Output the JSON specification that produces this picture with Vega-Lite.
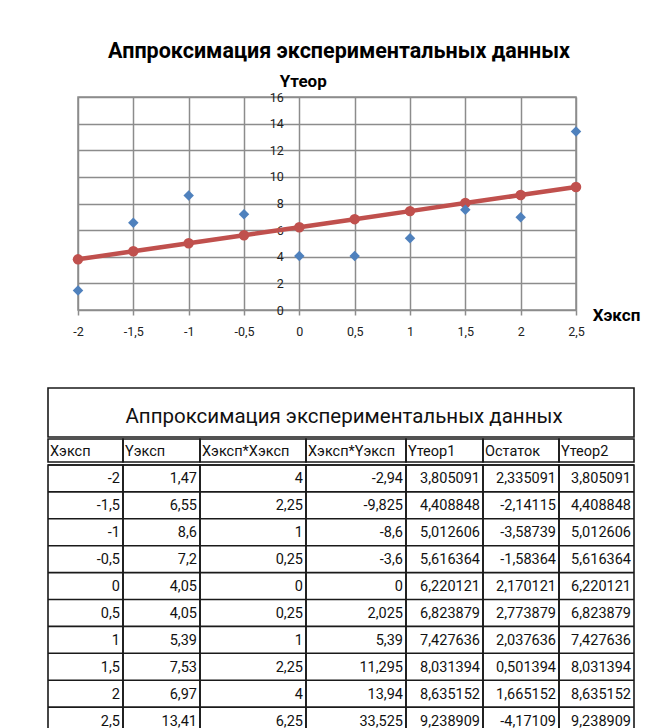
{
  "$schema": "https://vega.github.io/schema/vega-lite/v6.json",
  "padding": {"left": 46, "top": 39, "right": 5, "bottom": 0},
  "background": "white",
  "config": {
    "font": "Roboto",
    "locale": {"number": {"decimal": ",", "thousands": "\u00a0", "grouping": [3], "currency": ["", ""], "minus": "-"}},
    "view": {"stroke": null},
    "axis": {"labelOverlap": false, "labelFlush": false},
    "text": {"font": "Roboto", "fontSize": 14.5, "color": "#111"}
  },
  "datasets": {
    "d": [
      {"x": -2, "y": 1.47, "xx": 4, "xy": -2.94, "t1": 3.805091, "o": 2.335091, "t2": 3.805091},
      {"x": -1.5, "y": 6.55, "xx": 2.25, "xy": -9.825, "t1": 4.408848, "o": -2.14115, "t2": 4.408848},
      {"x": -1, "y": 8.6, "xx": 1, "xy": -8.6, "t1": 5.012606, "o": -3.58739, "t2": 5.012606},
      {"x": -0.5, "y": 7.2, "xx": 0.25, "xy": -3.6, "t1": 5.616364, "o": -1.58364, "t2": 5.616364},
      {"x": 0, "y": 4.05, "xx": 0, "xy": 0, "t1": 6.220121, "o": 2.170121, "t2": 6.220121},
      {"x": 0.5, "y": 4.05, "xx": 0.25, "xy": 2.025, "t1": 6.823879, "o": 2.773879, "t2": 6.823879},
      {"x": 1, "y": 5.39, "xx": 1, "xy": 5.39, "t1": 7.427636, "o": 2.037636, "t2": 7.427636},
      {"x": 1.5, "y": 7.53, "xx": 2.25, "xy": 11.295, "t1": 8.031394, "o": 0.501394, "t2": 8.031394},
      {"x": 2, "y": 6.97, "xx": 4, "xy": 13.94, "t1": 8.635152, "o": 1.665152, "t2": 8.635152},
      {"x": 2.5, "y": 13.41, "xx": 6.25, "xy": 33.525, "t1": 9.238909, "o": -4.17109, "t2": 9.238909}
    ],
    "one": [{}]
  },
  "spacing": 48,
  "vconcat": [
    {
      "spacing": 0,
      "hconcat": [
        {
          "width": 20, "height": 10,
          "data": {"name": "one"},
          "mark": {"type": "point", "opacity": 0},
          "view": {"stroke": null}
        },
        {
          "width": 498, "height": 213,
          "data": {"name": "d"},
          "view": {"stroke": "#8c8c8c", "strokeWidth": 1.5},
          "title": {"text": "Аппроксимация экспериментальных данных", "font": "Roboto", "fontSize": 21.5, "fontWeight": "bold", "color": "#000", "anchor": "middle", "frame": "group", "dx": 12, "baseline": "middle", "offset": -1},
          "layer": [
            {
              "mark": {"type": "line", "color": "#C0504D", "strokeWidth": 4.5, "point": {"filled": true, "size": 110, "color": "#C0504D", "opacity": 1}},
              "encoding": {
                "x": {"field": "x", "type": "quantitative", "scale": {"domain": [-2, 2.5], "nice": false, "zero": false},
                  "axis": {"values": [-2, -1.5, -1, -0.5, 0, 0.5, 1, 1.5, 2, 2.5], "format": "~g", "labelOverlap": false, "grid": true, "gridColor": "#8c8c8c", "gridWidth": 1.5, "domain": false, "ticks": true, "tickColor": "#8c8c8c", "tickWidth": 1.5, "tickSize": 5, "labelPadding": 10, "labelFont": "Roboto", "labelFontSize": 12.5, "labelColor": "#222", "title": "Xэксп", "titleFont": "Roboto", "titleFontSize": 17, "titleFontWeight": "bold", "titleColor": "#000", "titleX": 538, "titleY": 5, "titleAlign": "center", "titleBaseline": "middle"}},
                "y": {"field": "t1", "type": "quantitative", "scale": {"domain": [0, 16], "nice": false},
                  "axis": {"values": [0, 2, 4, 6, 8, 10, 12, 14, 16], "labelOverlap": false, "offset": -221.3, "grid": true, "gridColor": "#8c8c8c", "gridWidth": 1.5, "domain": false, "ticks": false, "labelPadding": 16, "labelFont": "Roboto", "labelFontSize": 12.5, "labelColor": "#222", "title": "Yтеор", "titleFont": "Roboto", "titleFontSize": 17, "titleFontWeight": "bold", "titleColor": "#000", "titleAngle": 0, "titleX": 3.5, "titleY": -16, "titleAlign": "center", "titleBaseline": "middle"}}
              }
            },
            {
              "mark": {"type": "point", "shape": "diamond", "filled": true, "size": 110, "color": "#4F81BD", "opacity": 1},
              "encoding": {
                "x": {"field": "x", "type": "quantitative"},
                "y": {"field": "y", "type": "quantitative", "axis": {"values": [0, 2, 4, 6, 8, 10, 12, 14, 16], "labelOverlap": false}}
              }
            }
          ]
        }
      ]
    },
    {
      "spacing": 0,
      "vconcat": [
        {
          "width": 586, "height": 49,
          "data": {"name": "one"},
          "view": {"stroke": "#1a1a1a", "strokeWidth": 1.6},
          "mark": {"type": "text", "fontSize": 20.5, "dy": 4, "dx": 3},
          "encoding": {"text": {"value": "Аппроксимация экспериментальных данных"}}
        },
        {
          "spacing": 0,
          "bounds": "flush",
          "data": {"name": "one"},
          "hconcat": [
            {"width": 75, "height": 23, "view": {"stroke": "#1a1a1a", "strokeWidth": 1.6}, "mark": {"type": "text", "align": "left", "dx": 2, "dy": 1.5}, "encoding": {"x": {"value": 0}, "text": {"value": "Xэксп"}}},
            {"width": 77, "height": 23, "view": {"stroke": "#1a1a1a", "strokeWidth": 1.6}, "mark": {"type": "text", "align": "left", "dx": 2, "dy": 1.5}, "encoding": {"x": {"value": 0}, "text": {"value": "Yэксп"}}},
            {"width": 106, "height": 23, "view": {"stroke": "#1a1a1a", "strokeWidth": 1.6}, "mark": {"type": "text", "align": "left", "dx": 2, "dy": 1.5}, "encoding": {"x": {"value": 0}, "text": {"value": "Xэксп*Xэксп"}}},
            {"width": 100, "height": 23, "view": {"stroke": "#1a1a1a", "strokeWidth": 1.6}, "mark": {"type": "text", "align": "left", "dx": 2, "dy": 1.5}, "encoding": {"x": {"value": 0}, "text": {"value": "Xэксп*Yэксп"}}},
            {"width": 77, "height": 23, "view": {"stroke": "#1a1a1a", "strokeWidth": 1.6}, "mark": {"type": "text", "align": "left", "dx": 2, "dy": 1.5}, "encoding": {"x": {"value": 0}, "text": {"value": "Yтеор1"}}},
            {"width": 76, "height": 23, "view": {"stroke": "#1a1a1a", "strokeWidth": 1.6}, "mark": {"type": "text", "align": "left", "dx": 2, "dy": 1.5}, "encoding": {"x": {"value": 0}, "text": {"value": "Остаток"}}},
            {"width": 75, "height": 23, "view": {"stroke": "#1a1a1a", "strokeWidth": 1.6}, "mark": {"type": "text", "align": "left", "dx": 2, "dy": 1.5}, "encoding": {"x": {"value": 0}, "text": {"value": "Yтеор2"}}}
          ]
        },
        {
          "spacing": 0,
          "bounds": "flush",
          "data": {"name": "d"},
          "hconcat": [
            {"width": 75, "height": 269, "view": {"stroke": "#1a1a1a", "strokeWidth": 1.6},
             "encoding": {"y": {"field": "x", "type": "ordinal", "scale": {"domain": [-2, -1.5, -1, -0.5, 0, 0.5, 1, 1.5, 2, 2.5], "paddingInner": 0, "paddingOuter": 0}, "axis": null}},
             "layer": [
              {"mark": {"type": "rule", "color": "#1a1a1a", "strokeWidth": 1.6}, "encoding": {"y": {"field": "x", "type": "ordinal", "bandPosition": 0, "axis": null}}},
              {"mark": {"type": "text", "align": "right", "dx": -3, "dy": 1}, "encoding": {"x": {"value": "width"}, "text": {"field": "x", "type": "quantitative", "format": ".10~g"}}}
             ]},
            {"width": 77, "height": 269, "view": {"stroke": "#1a1a1a", "strokeWidth": 1.6},
             "encoding": {"y": {"field": "x", "type": "ordinal", "scale": {"domain": [-2, -1.5, -1, -0.5, 0, 0.5, 1, 1.5, 2, 2.5], "paddingInner": 0, "paddingOuter": 0}, "axis": null}},
             "layer": [
              {"mark": {"type": "rule", "color": "#1a1a1a", "strokeWidth": 1.6}, "encoding": {"y": {"field": "x", "type": "ordinal", "bandPosition": 0, "axis": null}}},
              {"mark": {"type": "text", "align": "right", "dx": -3, "dy": 1}, "encoding": {"x": {"value": "width"}, "text": {"field": "y", "type": "quantitative", "format": ".10~g"}}}
             ]},
            {"width": 106, "height": 269, "view": {"stroke": "#1a1a1a", "strokeWidth": 1.6},
             "encoding": {"y": {"field": "x", "type": "ordinal", "scale": {"domain": [-2, -1.5, -1, -0.5, 0, 0.5, 1, 1.5, 2, 2.5], "paddingInner": 0, "paddingOuter": 0}, "axis": null}},
             "layer": [
              {"mark": {"type": "rule", "color": "#1a1a1a", "strokeWidth": 1.6}, "encoding": {"y": {"field": "x", "type": "ordinal", "bandPosition": 0, "axis": null}}},
              {"mark": {"type": "text", "align": "right", "dx": -3, "dy": 1}, "encoding": {"x": {"value": "width"}, "text": {"field": "xx", "type": "quantitative", "format": ".10~g"}}}
             ]},
            {"width": 100, "height": 269, "view": {"stroke": "#1a1a1a", "strokeWidth": 1.6},
             "encoding": {"y": {"field": "x", "type": "ordinal", "scale": {"domain": [-2, -1.5, -1, -0.5, 0, 0.5, 1, 1.5, 2, 2.5], "paddingInner": 0, "paddingOuter": 0}, "axis": null}},
             "layer": [
              {"mark": {"type": "rule", "color": "#1a1a1a", "strokeWidth": 1.6}, "encoding": {"y": {"field": "x", "type": "ordinal", "bandPosition": 0, "axis": null}}},
              {"mark": {"type": "text", "align": "right", "dx": -3, "dy": 1}, "encoding": {"x": {"value": "width"}, "text": {"field": "xy", "type": "quantitative", "format": ".10~g"}}}
             ]},
            {"width": 77, "height": 269, "view": {"stroke": "#1a1a1a", "strokeWidth": 1.6},
             "encoding": {"y": {"field": "x", "type": "ordinal", "scale": {"domain": [-2, -1.5, -1, -0.5, 0, 0.5, 1, 1.5, 2, 2.5], "paddingInner": 0, "paddingOuter": 0}, "axis": null}},
             "layer": [
              {"mark": {"type": "rule", "color": "#1a1a1a", "strokeWidth": 1.6}, "encoding": {"y": {"field": "x", "type": "ordinal", "bandPosition": 0, "axis": null}}},
              {"mark": {"type": "text", "align": "right", "dx": -3, "dy": 1}, "encoding": {"x": {"value": "width"}, "text": {"field": "t1", "type": "quantitative", "format": ".10~g"}}}
             ]},
            {"width": 76, "height": 269, "view": {"stroke": "#1a1a1a", "strokeWidth": 1.6},
             "encoding": {"y": {"field": "x", "type": "ordinal", "scale": {"domain": [-2, -1.5, -1, -0.5, 0, 0.5, 1, 1.5, 2, 2.5], "paddingInner": 0, "paddingOuter": 0}, "axis": null}},
             "layer": [
              {"mark": {"type": "rule", "color": "#1a1a1a", "strokeWidth": 1.6}, "encoding": {"y": {"field": "x", "type": "ordinal", "bandPosition": 0, "axis": null}}},
              {"mark": {"type": "text", "align": "right", "dx": -3, "dy": 1}, "encoding": {"x": {"value": "width"}, "text": {"field": "o", "type": "quantitative", "format": ".10~g"}}}
             ]},
            {"width": 75, "height": 269, "view": {"stroke": "#1a1a1a", "strokeWidth": 1.6},
             "encoding": {"y": {"field": "x", "type": "ordinal", "scale": {"domain": [-2, -1.5, -1, -0.5, 0, 0.5, 1, 1.5, 2, 2.5], "paddingInner": 0, "paddingOuter": 0}, "axis": null}},
             "layer": [
              {"mark": {"type": "rule", "color": "#1a1a1a", "strokeWidth": 1.6}, "encoding": {"y": {"field": "x", "type": "ordinal", "bandPosition": 0, "axis": null}}},
              {"mark": {"type": "text", "align": "right", "dx": -3, "dy": 1}, "encoding": {"x": {"value": "width"}, "text": {"field": "t2", "type": "quantitative", "format": ".10~g"}}}
             ]}
          ]
        }
      ]
    }
  ]
}
